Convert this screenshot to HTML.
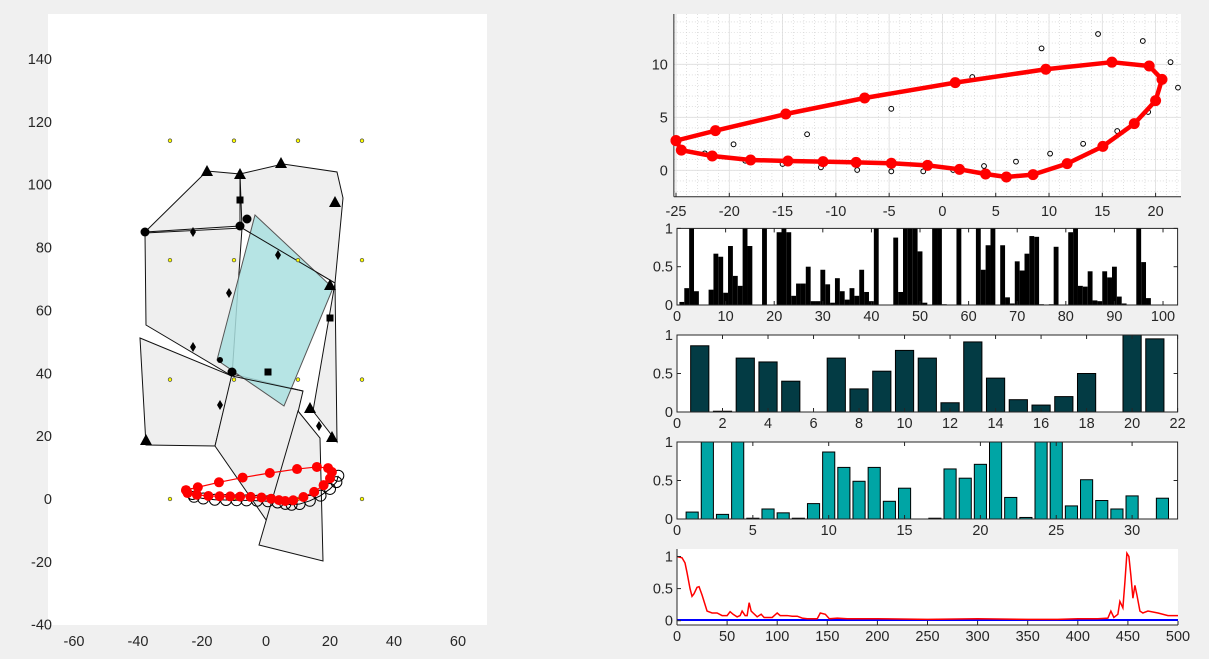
<!DOCTYPE html>
<html><head><meta charset="utf-8">
<style>
html,body{margin:0;padding:0;background:#f0f0f0;}
svg{display:block;font-family:"Liberation Sans",Arial,sans-serif;}
</style></head>
<body>
<svg id="fig" width="1209" height="659" viewBox="0 0 1209 659" xmlns="http://www.w3.org/2000/svg">
<rect width="1209" height="659" fill="#f0f0f0"/>
</svg>
<script>
// ---------- data ----------
const loopX = [-25,-24.5,-21.6,-18,-14.5,-11.2,-8.1,-4.8,-1.4,1.6,4.05,6.0,8.5,11.7,15.05,18,20,20.6,19.4,15.9,9.7,1.2,-7.3,-14.7,-21.3,-25];
const loopY = [2.8,1.9,1.35,0.97,0.88,0.82,0.75,0.66,0.47,0.09,-0.35,-0.63,-0.41,0.63,2.26,4.4,6.57,8.58,9.84,10.2,9.53,8.27,6.82,5.31,3.74,2.8];
const scatX = [14.6,18.8,9.3,21.4,22.1,2.8,-4.8,19.3,-12.7,16.4,-19.6,13.2,10.1,-22.3,-18.5,-15,-11.4,-8,-4.8,-1.8,1,3.9,6.9];
const scatY = [12.86,12.2,11.5,10.2,7.8,8.8,5.8,5.5,3.4,3.7,2.45,2.5,1.57,1.6,0.9,0.6,0.28,0.03,-0.1,-0.1,0.03,0.4,0.82];
const bars1 = [0.04,0.22,1,0.18,0,0,0.2,0.67,0.63,0.16,0.77,0.38,0.25,1,0.77,0,0,1,0,0,0.95,1,0.95,0.12,0.28,0.28,0.5,0.05,0.05,0.46,0.27,0.03,0.35,0.18,0.07,0.22,0.12,0.46,0.17,0.05,1,0,0,0,0.88,0.17,1,1,1,0.7,0.03,0,1,1,0.01,0,0,1,0,0,0,1,0.46,0.78,1,0,0.78,0.1,0.02,0.57,0.45,0.67,0.9,0.89,0.01,0,0.01,0.76,0,0,0.95,1,0.25,0.24,0.44,0.06,0.05,0.44,0.36,0.5,0.11,0.02,0,0,1,0.56,0.09,0,0,0,0,0];
const bars2 = [0.86,0.01,0.7,0.65,0.4,0,0.7,0.3,0.53,0.8,0.7,0.12,0.91,0.44,0.16,0.09,0.2,0.5,0,1,0.95];
const bars3 = [0.09,1,0.06,1,0.01,0.13,0.08,0.01,0.2,0.87,0.67,0.49,0.67,0.23,0.4,0,0.01,0.65,0.53,0.71,1,0.28,0.02,1,1,0.17,0.51,0.24,0.13,0.3,0,0.27];
const lineX = [0,5,8,10,13,15,17,20,22,25,28,30,35,40,45,50,53,56,60,63,65,68,70,72,74,76,80,84,87,95,100,103,110,115,120,125,130,140,143,148,152,160,170,200,250,300,350,380,400,420,430,433,436,440,442,445,447,449,451,453,455,457,459,462,465,470,480,490,500];
const lineY = [1.0,0.98,0.9,0.75,0.5,0.38,0.42,0.52,0.53,0.4,0.25,0.15,0.12,0.12,0.08,0.08,0.14,0.1,0.06,0.08,0.15,0.08,0.08,0.28,0.15,0.12,0.06,0.1,0.05,0.05,0.12,0.08,0.08,0.07,0.07,0.04,0.03,0.03,0.12,0.1,0.03,0.04,0.03,0.03,0.02,0.03,0.02,0.02,0.03,0.03,0.04,0.15,0.05,0.1,0.3,0.2,0.6,1.05,1.0,0.7,0.35,0.55,0.4,0.15,0.12,0.15,0.12,0.08,0.08];
const gridDotsX = [-30,-10,10,30];
const gridDotsY = [114,76,38,0];
const leftXTicks = [-60,-40,-20,0,20,40,60];
const leftYTicks = [-40,-20,0,20,40,60,80,100,120,140];

// ---------- helpers ----------
const NS = "http://www.w3.org/2000/svg";
const svg = document.getElementById('fig');
function el(tag, attrs, parent){ const e=document.createElementNS(NS,tag); for(const k in attrs) e.setAttribute(k,attrs[k]); (parent||svg).appendChild(e); return e; }
function txt(x,y,s,anchor,parent){ const t=el('text',{x:x,y:y,'font-size':14.5,fill:'#262626','text-anchor':anchor||'middle'},parent); t.textContent=s; return t; }
function lin(d0,d1,p0,p1){ return v=>p0+(v-d0)*(p1-p0)/(d1-d0); }

// ---------- left plot ----------
const L = el('g',{});


el('rect',{x:48,y:14,width:439,height:611,fill:'#fff'},L);
const lx = lin(0,20,266,330), ly = lin(0,20,499,436.14);
leftXTicks.forEach(v=>{ const t=txt(lx(v),646,String(v),'middle',L);   });
leftYTicks.forEach(v=>{ const t=txt(52,ly(v)+5,String(v),'end',L);   });
const polys = [
 [[145,232],[207,171],[240,174],[240,226]],
 [[240,174],[283,164],[337,172],[343,198],[335,283],[242,228]],
 [[145,233],[242,228],[232,376],[146,325]],
 [[140,338],[232,376],[215,446],[146,445]],
 [[232,374],[303,391],[271,527],[215,446]],
 [[298,411],[320,438],[323,561],[259,545]],
 [[335,283],[337,442],[313,411]]
];
polys.forEach(p=>{ const e=el('polygon',{points:p.map(q=>q.join(',')).join(' '),fill:'#efefef',stroke:'#111','stroke-width':1},L);   });
const cy=el('polygon',{points:'255,215 333,288 284,406 217,360',fill:'#a9dfdf','fill-opacity':0.85,stroke:'#555','stroke-width':1},L);
 
el('polyline',{points:'242,228 335,283',stroke:'#111',fill:'none'},L);
el('polyline',{points:'232,376 303,391',stroke:'#111',fill:'none'},L);
[[207,171],[240,174],[281,163],[335,202],[330,285],[310,408],[332,437],[146,440]].forEach(m=>{ const e=el('polygon',{points:`${m[0]},${m[1]-6} ${m[0]-6},${m[1]+5} ${m[0]+6},${m[1]+5}`,fill:'#000'},L);   });
[[145,232,4.5],[240,226,4.5],[247,219,4.5],[232,372,4.5],[220,360,3]].forEach(m=>{ const e=el('circle',{cx:m[0],cy:m[1],r:m[2],fill:'#000'},L);   });
[[193,232],[193,347],[220,405],[278,255],[229,293],[319,426]].forEach(m=>{ const e=el('polygon',{points:`${m[0]},${m[1]-5} ${m[0]-3},${m[1]} ${m[0]},${m[1]+5} ${m[0]+3},${m[1]}`,fill:'#000'},L);   });
[[240,200],[330,318],[268,372]].forEach(m=>{ const e=el('rect',{x:m[0]-3.5,y:m[1]-3.5,width:7,height:7,fill:'#000'},L);   });
gridDotsX.forEach(x=>gridDotsY.forEach(y=>{ const e=el('circle',{cx:lx(x),cy:ly(y),r:1.8,fill:'#ffff00',stroke:'#444','stroke-width':0.7},L);   }));
const ocPts = loopX.map((x,i)=>[x+2,loopY[i]-1.2]).slice(0,18);
el('polyline',{points:ocPts.map(p=>lx(p[0])+','+ly(p[1])).join(' '),fill:'none',stroke:'#000','stroke-width':1},L);
ocPts.forEach(p=>{ const e=el('circle',{cx:lx(p[0]),cy:ly(p[1]),r:5.5,fill:'none',stroke:'#000','stroke-width':1},L);   });
el('polyline',{points:loopX.map((x,i)=>lx(x)+','+ly(loopY[i])).join(' '),fill:'none',stroke:'#f00','stroke-width':1.2},L);
loopX.forEach((x,i)=>{ const e=el('circle',{cx:lx(x),cy:ly(loopY[i]),r:5,fill:'#f00'},L);   });

// ---------- top-right loop plot ----------
const T = el('g',{});


const tx = lin(-25,20,676,1155.6), ty = lin(0,10,170.3,64.3);
const tR=1181, tT=14, tB=ty(-2.5), tLx=tx(-25.2);
el('rect',{x:tLx,y:tT,width:tR-tLx,height:tB-tT,fill:'#fff'},T);
for(let v=-25;v<=22;v++){ el('line',{x1:tx(v),x2:tx(v),y1:tT,y2:tB,stroke:'#ccc','stroke-width':0.6,'stroke-dasharray':'1,2'},T); }
for(let v=-2;v<=14;v++){ el('line',{x1:tLx,x2:tR,y1:ty(v),y2:ty(v),stroke:'#ccc','stroke-width':0.6,'stroke-dasharray':'1,2'},T); }
[-25,-20,-15,-10,-5,0,5,10,15,20].forEach(v=>{ el('line',{x1:tx(v),x2:tx(v),y1:tT,y2:tB,stroke:'#ddd','stroke-width':0.8},T); const t=txt(tx(v),tB+19,String(v),'middle',T);   el('line',{x1:tx(v),x2:tx(v),y1:tB,y2:tB-4,stroke:'#262626'},T); });
[0,5,10].forEach(v=>{ el('line',{x1:tLx,x2:tR,y1:ty(v),y2:ty(v),stroke:'#ddd','stroke-width':0.8},T); const t=txt(tLx-6,ty(v)+5,String(v),'end',T);   });
el('line',{x1:tLx,x2:tLx,y1:tT,y2:tB,stroke:'#262626'},T);
el('line',{x1:tLx,x2:tR,y1:tB,y2:tB,stroke:'#262626'},T);
scatX.forEach((x,i)=>{ const e=el('circle',{cx:tx(x),cy:ty(scatY[i]),r:2.4,fill:'none',stroke:'#000','stroke-width':1},T);   });
el('polyline',{points:loopX.map((x,i)=>tx(x)+','+ty(loopY[i])).join(' '),fill:'none',stroke:'#f00','stroke-width':4.5,'stroke-linejoin':'round'},T);
loopX.forEach((x,i)=>{ const e=el('circle',{cx:tx(x),cy:ty(loopY[i]),r:5.5,fill:'#f00'},T);   });

// ---------- bar charts ----------
function barChart(name, vals, xmax, top, bot, color, width, ticks, full){
  const g = el('g',{});
  
  
  const L0=677, R0=1177.6;
  const bx=lin(0,xmax,L0,R0), by=lin(0,1,bot,top);
  el('rect',{x:L0,y:top,width:R0-L0,height:bot-top,fill:'#fff'},g);
  vals.forEach((v,i)=>{ const x=i+1; const b=el('rect',{x:bx(x-width/2),y:by(v),width:Math.max(0,bx(x+width/2)-bx(x-width/2)),height:Math.max(0,by(0)-by(v)),fill:color,stroke:full?'none':'#000','stroke-width':1},g);   });
  el('rect',{x:L0,y:top,width:R0-L0,height:bot-top,fill:'none',stroke:'#262626','stroke-width':1},g);
  ticks.forEach(v=>{ el('line',{x1:bx(v),x2:bx(v),y1:bot,y2:bot-4,stroke:'#262626'},g); el('line',{x1:bx(v),x2:bx(v),y1:top,y2:top+4,stroke:'#262626'},g); const t=txt(bx(v),bot+16,String(v),'middle',g);   });
  [[0,'0'],[0.5,'0.5'],[1,'1']].forEach(p=>{ el('line',{x1:L0,x2:L0+4,y1:by(p[0]),y2:by(p[0]),stroke:'#262626'},g); el('line',{x1:R0,x2:R0-4,y1:by(p[0]),y2:by(p[0]),stroke:'#262626'},g); const t=txt(L0-4,by(p[0])+5,p[1],'end',g);   });
}
barChart('bar-chart-100', bars1, 103, 228.4, 305, '#000', 1, [0,10,20,30,40,50,60,70,80,90,100], true);
barChart('bar-chart-21', bars2, 22, 335, 412, '#033b44', 0.8, [0,2,4,6,8,10,12,14,16,18,20,22], false);
barChart('bar-chart-32', bars3, 33, 442, 519, '#00a5a5', 0.8, [0,5,10,15,20,25,30], false);

// ---------- line chart ----------
const G = el('g',{});


const gx=lin(0,500,677,1178), gy=lin(0,1,620.7,556.5);
el('rect',{x:677,y:549,width:501,height:76,fill:'#fff'},G);
el('line',{x1:677,x2:1178,y1:gy(0.01),y2:gy(0.01),stroke:'#0000ff','stroke-width':2},G);
const rl=el('polyline',{points:lineX.map((x,i)=>gx(x)+','+gy(lineY[i])).join(' '),fill:'none',stroke:'#f00','stroke-width':1.5},G);


el('line',{x1:677,x2:677,y1:549,y2:625,stroke:'#262626'},G);
el('line',{x1:677,x2:1178,y1:625,y2:625,stroke:'#262626'},G);
[0,50,100,150,200,250,300,350,400,450,500].forEach(v=>{ el('line',{x1:gx(v),x2:gx(v),y1:625,y2:621,stroke:'#262626'},G); const t=txt(gx(v),641,String(v),'middle',G);   });
[[0,'0'],[0.5,'0.5'],[1,'1']].forEach(p=>{ el('line',{x1:677,x2:681,y1:gy(p[0]),y2:gy(p[0]),stroke:'#262626'},G); const t=txt(673,gy(p[0])+5,p[1],'end',G);   });
</script>
</body></html>
